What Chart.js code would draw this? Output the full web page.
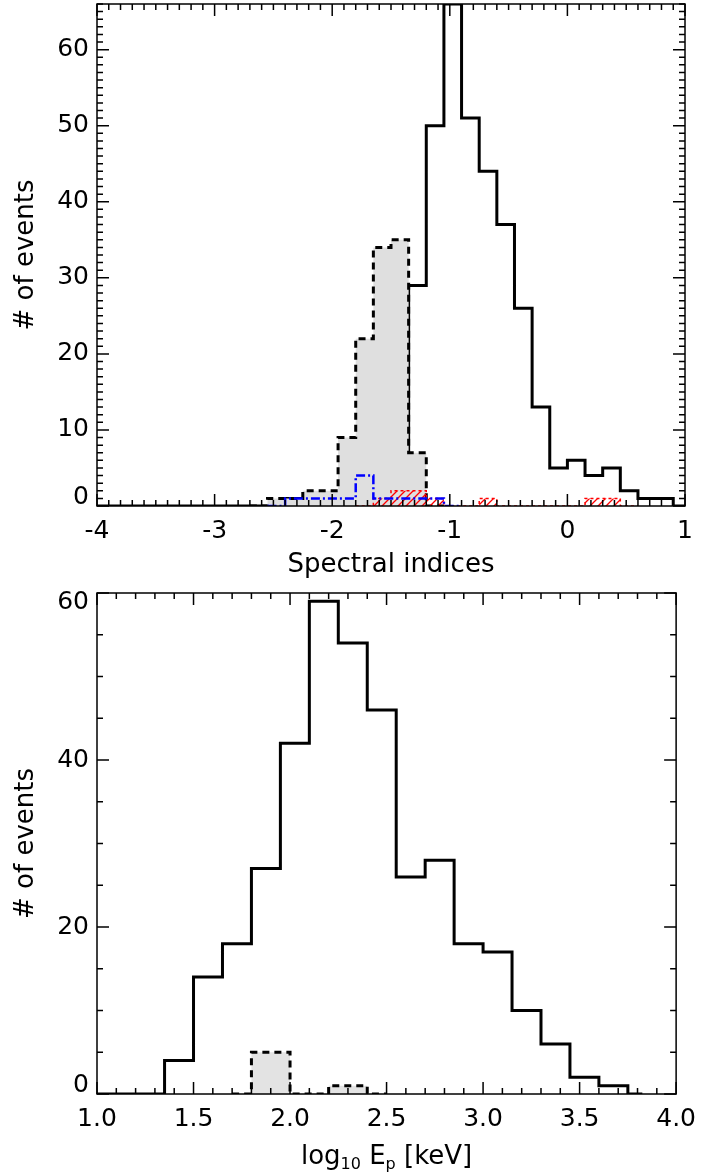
<!DOCTYPE html>
<html lang="en">
<head>
<meta charset="UTF-8">
<title>Spectral indices and peak energy histograms</title>
<script src="https://cdn.jsdelivr.net/npm/chart.js"></script>
<style>
  body { margin: 0; background: #fff; }
  canvas { position: absolute; left: 0; }
</style>
</head>
<body>
<canvas id="specChart" width="706" height="588" style="top:0"></canvas>
<canvas id="epChart" width="706" height="587" style="top:588px"></canvas>
<script>
// ---- top panel: spectral indices (bin width 0.15) ----
const specEdges = [-4.05, -3.9, -3.75, -3.6, -3.45, -3.3, -3.15, -3.0, -2.85, -2.7,
  -2.55, -2.4, -2.25, -2.1, -1.95, -1.8, -1.65, -1.5, -1.35, -1.2, -1.05, -0.9,
  -0.75, -0.6, -0.45, -0.3, -0.15, 0, 0.15, 0.3, 0.45, 0.6, 0.75, 0.9, 1.05];
const specAll = [0, 0, 0, 0, 0, 0, 0, 0, 0, 0,
  0, 1, 0, 0, 0, 0, 0, 0, 29, 50, 66, 51,
  44, 37, 26, 13, 5, 6, 4, 5, 2, 1, 1, 0];

const specGreyEdges = [-2.7, -2.55, -2.4, -2.25, -2.1, -1.95, -1.8, -1.65, -1.5, -1.35, -1.2, -1.05];
const specGrey = [0, 1, 1, 2, 2, 9, 22, 34, 35, 7, 0];

const specBlueEdges = [-2.55, -2.4, -2.25, -2.1, -1.95, -1.8, -1.65, -1.5, -1.35, -1.2, -1.05, -0.9];
const specBlue = [0, 1, 1, 1, 1, 4, 1, 1, 1, 1, 0];

const specRedEdges = [-1.8, -1.65, -1.5, -1.35, -1.2, -1.05, -0.9, -0.75, -0.6, -0.45,
  -0.3, -0.15, 0, 0.15, 0.3, 0.45, 0.6];
const specRed = [0, 1, 2, 2, 1, 0, 0, 1, 0, 0, 0, 0, 0, 1, 1, 0];

const specXTicks = [-4, -3, -2, -1, 0, 1];
const specYTicks = [0, 10, 20, 30, 40, 50, 60];

// ---- bottom panel: log10 Ep (bin width 0.15, subset 0.2) ----
const epEdges = [0.9, 1.05, 1.2, 1.35, 1.5, 1.65, 1.8, 1.95, 2.1, 2.25, 2.4,
  2.55, 2.7, 2.85, 3.0, 3.15, 3.3, 3.45, 3.6, 3.75, 3.825];
const epAll = [0, 0, 0, 4, 14, 18, 27, 42, 59, 54,
  46, 26, 28, 18, 17, 10, 6, 2, 1, 0];

const epGreyEdges = [1.7, 1.8, 2.0, 2.2, 2.4, 2.5];
const epGrey = [0, 5, 0, 1, 0];

const epXTicks = [1.0, 1.5, 2.0, 2.5, 3.0, 3.5, 4.0];
const epYTicks = [0, 20, 40, 60];

const FONT = "'DejaVu Sans', 'Liberation Sans', Arial, sans-serif";
const TICK_SIZE = 25;
const TITLE_SIZE = 26;

// histogram outline points for a stepped line
function steps(edges, counts) {
  const pts = counts.map((c, i) => ({x: edges[i], y: c}));
  pts.push({x: edges[edges.length - 1], y: counts[counts.length - 1]});
  return pts;
}

function hatch() {
  const c = document.createElement('canvas');
  c.width = 8; c.height = 8;
  const g = c.getContext('2d');
  g.strokeStyle = '#ff0000';
  g.lineWidth = 1.3;
  g.beginPath();
  g.moveTo(0, 8); g.lineTo(8, 0);
  g.moveTo(-2, 2); g.lineTo(2, -2);
  g.moveTo(6, 10); g.lineTo(10, 6);
  g.stroke();
  return g.createPattern(c, 'repeat');
}

// box around the plot, inward ticks on all four sides, y labels kept inside the box
const idlBox = {
  id: 'idlBox',
  afterDatasetsDraw(chart, args, o) {
    const {ctx, chartArea: a, scales: {x, y}} = chart;
    ctx.save();
    ctx.strokeStyle = '#000';
    ctx.lineWidth = 1.5;
    ctx.strokeRect(a.left, a.top, a.right - a.left, a.bottom - a.top);
    ctx.beginPath();
    const each = (scale, minor, major, fn) => {
      const n = Math.round((scale.max - scale.min) / minor);
      for (let i = 0; i <= n; i++) {
        const v = scale.min + i * minor;
        const big = Math.abs(v / major - Math.round(v / major)) < 1e-6;
        fn(scale.getPixelForValue(v), big ? o.major : o.minor);
      }
    };
    each(x, o.xMinor, o.xMajor, (p, len) => {
      ctx.moveTo(p, a.bottom); ctx.lineTo(p, a.bottom - len);
      ctx.moveTo(p, a.top); ctx.lineTo(p, a.top + len);
    });
    each(y, o.yMinor, o.yMajor, (p, len) => {
      ctx.moveTo(a.left, p); ctx.lineTo(a.left + len, p);
      ctx.moveTo(a.right, p); ctx.lineTo(a.right - len, p);
    });
    ctx.stroke();

    ctx.font = TICK_SIZE + 'px ' + FONT;
    ctx.fillStyle = '#000';
    ctx.textAlign = 'right';
    ctx.textBaseline = 'middle';
    const half = 9;
    o.yLabels.forEach(v => {
      const p = Math.min(Math.max(y.getPixelForValue(v), a.top + half), a.bottom - half);
      ctx.fillText(String(v), a.left - 8, p);
    });
    ctx.restore();
  }
};

// x title with subscripts
const subTitle = {
  id: 'subTitle',
  afterDraw(chart, args, o) {
    if (!o.parts) return;
    const ctx = chart.ctx;
    const big = o.size + 'px ' + FONT, small = o.subSize + 'px ' + FONT;
    ctx.save();
    ctx.fillStyle = '#000';
    ctx.textBaseline = 'alphabetic';
    let w = 0;
    o.parts.forEach(p => { ctx.font = p.sub ? small : big; w += ctx.measureText(p.text).width; });
    let x = (chart.chartArea.left + chart.chartArea.right) / 2 - w / 2;
    o.parts.forEach(p => {
      ctx.font = p.sub ? small : big;
      ctx.fillText(p.text, x, o.y + (p.sub ? o.subDrop : 0));
      x += ctx.measureText(p.text).width;
    });
    ctx.restore();
  }
};

function hist(data, extra) {
  return Object.assign({
    data: data,
    stepped: 'before',
    borderColor: '#000',
    borderWidth: 3,
    pointRadius: 0,
    fill: false
  }, extra);
}

function baseOptions(cfg) {
  return {
    responsive: false,
    animation: false,
    layout: {padding: {top: cfg.padTop, right: 21, left: 0, bottom: 0}},
    plugins: {
      legend: {display: false},
      tooltip: {enabled: false},
      idlBox: Object.assign({yLabels: cfg.yTicks}, cfg.box),
      subTitle: cfg.subTitle || {}
    },
    scales: {
      x: {
        type: 'linear',
        min: cfg.xTicks[0],
        max: cfg.xTicks[cfg.xTicks.length - 1],
        afterBuildTicks: s => { s.ticks = cfg.xTicks.map(v => ({value: v})); },
        afterFit: s => { s.height = cfg.xHeight; },
        grid: {display: false, drawTicks: false},
        border: {display: false},
        ticks: {
          color: '#000', padding: 10, maxRotation: 0,
          font: {family: FONT, size: TICK_SIZE},
          callback: cfg.xFormat
        },
        title: cfg.xTitle
          ? {display: true, text: cfg.xTitle, color: '#000', font: {family: FONT, size: TITLE_SIZE},
             padding: {top: 0, bottom: 7}}
          : {display: false}
      },
      y: {
        min: 0,
        max: cfg.yMax,
        afterFit: s => { s.width = 97; },
        grid: {display: false, drawTicks: false},
        border: {display: false},
        ticks: {display: false},
        title: {display: true, text: '# of events', color: '#000',
                font: {family: FONT, size: TITLE_SIZE}, padding: {top: 11, bottom: 0}}
      }
    }
  };
}

const specCtx = document.getElementById('specChart').getContext('2d');
new Chart(specCtx, {
  type: 'line',
  data: {
    datasets: [
      hist(steps(specBlueEdges, specBlue), {borderColor: '#0000ff', borderWidth: 2.5,
        borderDash: [9, 3, 2, 3], order: 1}),
      hist(steps(specRedEdges, specRed), {borderColor: '#ff0000', borderWidth: 1.5,
        borderDash: [3, 3], fill: 'origin', backgroundColor: hatch(), order: 2}),
      hist(steps(specGreyEdges, specGrey), {borderDash: [7, 5], fill: 'origin',
        backgroundColor: '#dfdfdf', order: 3}),
      hist(steps(specEdges, specAll), {order: 4})
    ]
  },
  options: baseOptions({
    padTop: 4, xHeight: 82, yMax: 66,
    xTicks: specXTicks, yTicks: specYTicks,
    xFormat: v => String(v),
    xTitle: 'Spectral indices',
    box: {xMinor: 0.1, xMajor: 1, yMinor: 1, yMajor: 10, major: 12, minor: 6}
  }),
  plugins: [idlBox, subTitle]
});

const epCtx = document.getElementById('epChart').getContext('2d');
new Chart(epCtx, {
  type: 'line',
  data: {
    datasets: [
      hist(steps(epGreyEdges, epGrey), {borderDash: [7, 5], fill: 'origin',
        backgroundColor: '#e3e3e3', order: 1}),
      hist(steps(epEdges, epAll), {order: 2})
    ]
  },
  options: baseOptions({
    padTop: 5, xHeight: 81, yMax: 60,
    xTicks: epXTicks, yTicks: epYTicks,
    xFormat: v => Number(v).toFixed(1),
    box: {xMinor: 0.1, xMajor: 0.5, yMinor: 5, yMajor: 20, major: 12, minor: 6},
    subTitle: {
      y: 576, size: TITLE_SIZE, subSize: 16, subDrop: 5,
      parts: [{text: 'log'}, {text: '10', sub: true}, {text: ' E'}, {text: 'p', sub: true}, {text: ' [keV]'}]
    }
  }),
  plugins: [idlBox, subTitle]
});
</script>
</body>
</html>
